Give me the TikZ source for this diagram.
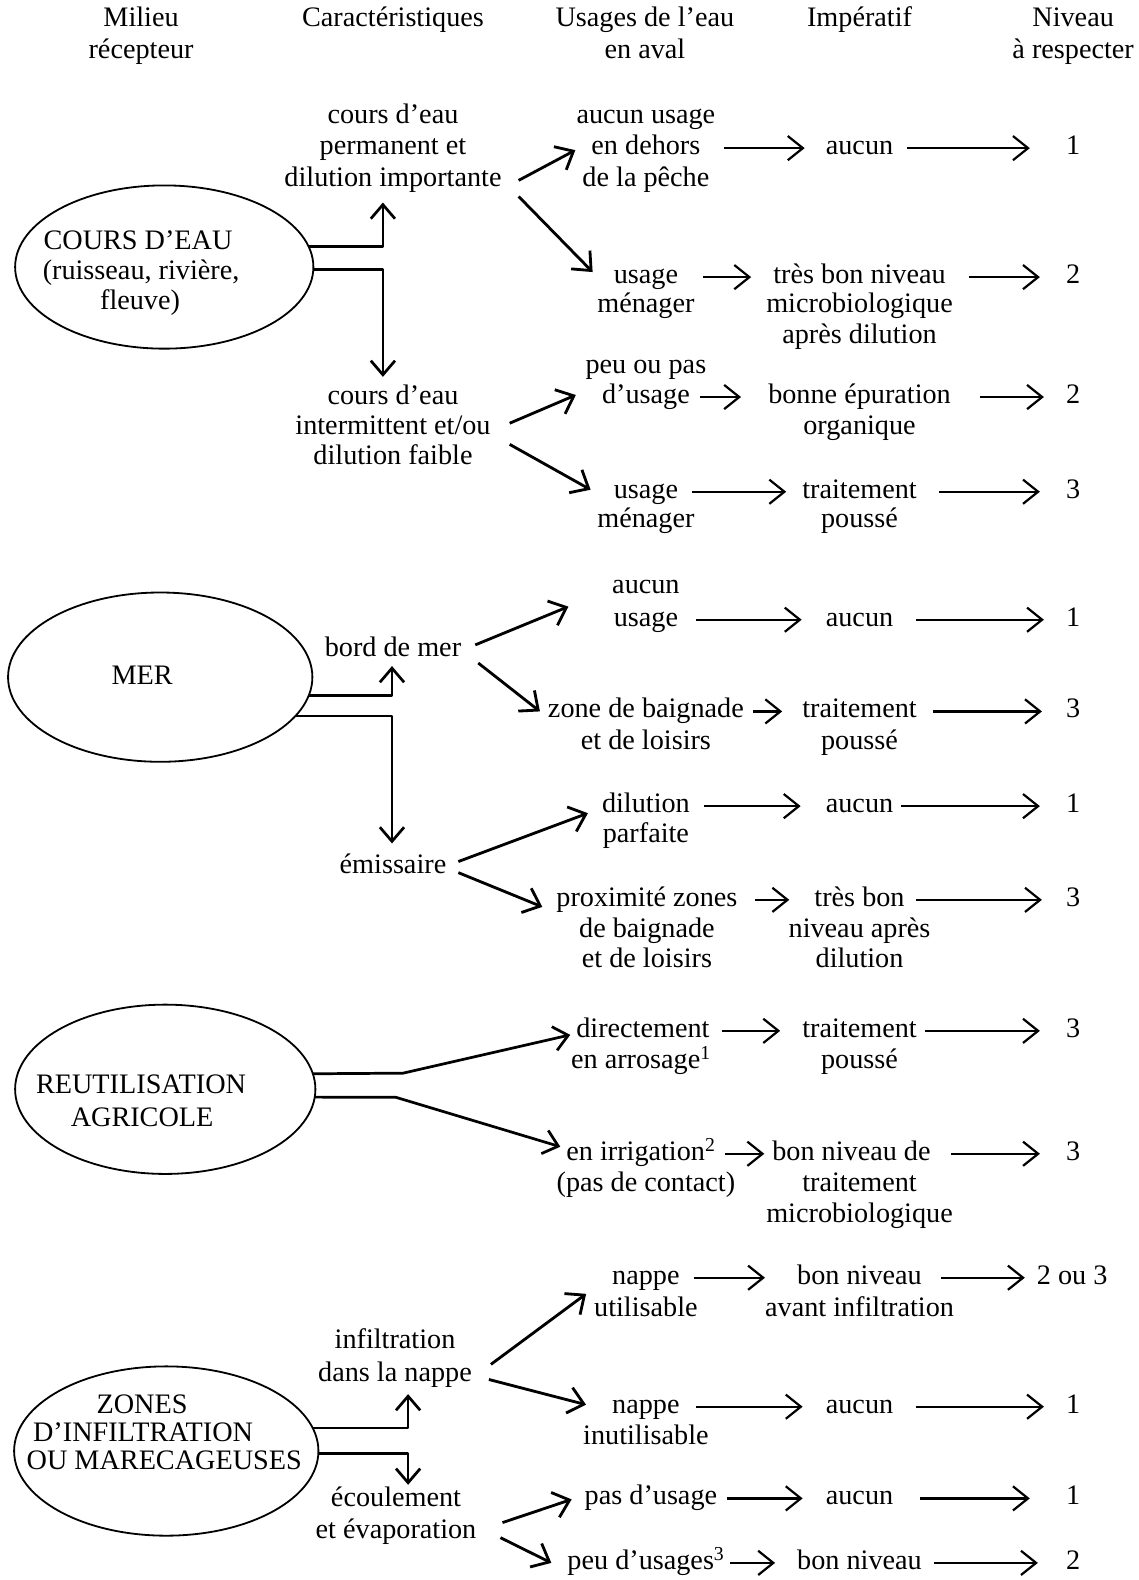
\documentclass[tikz,border=0pt]{standalone}
\usepackage{fontspec}
\setmainfont{Liberation Serif}
\usetikzlibrary{arrows.meta,shapes.geometric}
\newcommand\tline[4]{\node[txt] (#1) at (#2,#3) {#4};}
\begin{document}
\begin{tikzpicture}[x=1pt,y=-1pt,
  font=\fontsize{28}{31}\selectfont,
  txt/.style={inner sep=0pt, outer sep=0pt, text height=19pt, text depth=6pt},
  ell/.style={draw, ellipse, line width=1.8pt, inner sep=0pt, outer sep=0pt},
  harr/.style={-{Straight Barb[length=15pt,width=24pt]}, line width=2.2pt},
  darr/.style={-{Straight Barb[length=15pt,width=26pt]}, line width=2.8pt},
  carr/.style={-{Straight Barb[length=14pt,width=24pt]}, line width=2.7pt, line join=round}]
\useasboundingbox (0,0) rectangle (1130,1568);
\fill[white] (0,0) rectangle (1130,1568);

% headers
\tline{hMa}{140}{20}{Milieu}
\tline{hMb}{140}{52}{récepteur}
\tline{hC}{390}{20}{Caractéristiques}
\tline{hUa}{640}{20}{Usages de l’eau}
\tline{hUb}{640}{52}{en aval}
\tline{hI}{853}{20}{Impératif}
\tline{hNa}{1065}{20}{Niveau}
\tline{hNb}{1065}{52}{à respecter}

% ===== section 1
\node[ell, minimum width=296pt, minimum height=162pt] (E1) at (163,265) {};
\tline{e1a}{137}{241}{COURS D’EAU}
\tline{e1b}{140}{271}{(ruisseau, rivière,}
\tline{e1c}{139}{301}{fleuve)}

\tline{c1a}{390}{116}{cours d’eau}
\tline{c1b}{390}{147}{permanent et}
\tline{c1c}{390}{179}{dilution importante}
\tline{c2a}{390}{395}{cours d’eau}
\tline{c2b}{390}{425}{intermittent et/ou}
\tline{c2c}{390}{454}{dilution faible}

\tline{u1a}{641}{116}{aucun usage}
\tline{u1b}{641}{147}{en dehors}
\tline{u1c}{641}{179}{de la pêche}
\tline{i1}{853}{147}{aucun}
\tline{n1}{1065}{147}{1}

\tline{u2a}{641}{275}{usage}
\tline{u2b}{641}{304}{ménager}
\tline{i2a}{853}{275}{très bon niveau}
\tline{i2b}{853}{304}{microbiologique}
\tline{i2c}{853}{334}{après dilution}
\tline{n2}{1065}{275}{2}

\tline{u3a}{641}{364}{peu ou pas}
\tline{u3b}{641}{394}{d’usage}
\tline{i3a}{853}{394}{bonne épuration}
\tline{i3b}{853}{425}{organique}
\tline{n3}{1065}{394}{2}

\tline{u4a}{641}{488}{usage}
\tline{u4b}{641}{517}{ménager}
\tline{i4a}{853}{488}{traitement}
\tline{i4b}{853}{517}{poussé}
\tline{n4}{1065}{488}{3}

\draw[carr] (E1.8) -| ([shift={(-10,9.5)}]c1c.south);
\draw[carr] (E1.-1) -| ([shift={(-10,-8.5)}]c2a.north);
\draw[darr] ([shift={(17,0)}]c1c.east) -- ([shift={(-16,2)}]u1b.west);
\draw[darr] ([shift={(17,16)}]c1c.east) -- ([shift={(-21,-5)}]u2a.west);
\draw[darr] ([shift={(19,-5)}]c2b.east) -- ([shift={(-26,-2)}]u3b.west);
\draw[darr] ([shift={(19,16)}]c2b.east) -- ([shift={(-23,-2)}]u4a.west);

\draw[harr, shorten <=23pt, shorten >=21pt] (u1b.east) -- (i1.west);
\draw[harr, shorten <=14pt, shorten >=36pt] (i1.east) -- (n1.west);
\draw[harr, shorten <=25pt, shorten >=22pt] (u2a.east) -- (i2a.west);
\draw[harr, shorten <=23pt, shorten >=26pt] (i2a.east) -- (n2.west);
\draw[harr, shorten <=10pt, shorten >=27pt] (u3b.east) -- (i3a.west);
\draw[harr, shorten <=29pt, shorten >=22pt] (i3a.east) -- (n3.west);
\draw[harr, shorten <=14pt, shorten >=16pt] (u4a.east) -- (i4a.west);
\draw[harr, shorten <=22pt, shorten >=26pt] (i4a.east) -- (n4.west);

% ===== section 2
\node[ell, minimum width=302pt, minimum height=168pt] (E2) at (159,672) {};
\tline{e2}{141}{673}{MER}
\tline{b1}{390}{645}{bord de mer}
\tline{em}{390}{860}{émissaire}

\tline{u5a}{641}{582}{aucun}
\tline{u5b}{641}{615}{usage}
\tline{i5}{853}{615}{aucun}
\tline{n5}{1065}{615}{1}

\tline{u6a}{641}{706}{zone de baignade}
\tline{u6b}{641}{737}{et de loisirs}
\tline{i6a}{853}{706}{traitement}
\tline{i6b}{853}{737}{poussé}
\tline{n6}{1065}{706}{3}

\tline{u7a}{641}{800}{dilution}
\tline{u7b}{641}{830}{parfaite}
\tline{i7}{853}{800}{aucun}
\tline{n7}{1065}{800}{1}

\tline{u8a}{642}{893}{proximité zones}
\tline{u8b}{642}{924}{de baignade}
\tline{u8c}{642}{954}{et de loisirs}
\tline{i8a}{853}{893}{très bon}
\tline{i8b}{853}{924}{niveau après}
\tline{i8c}{853}{954}{dilution}
\tline{n8}{1065}{893}{3}

\draw[carr] (E2.-7) -| ([shift={(-1,3.5)}]b1.south);
\draw[carr] (E2.-16) -| ([shift={(-1,-10.5)}]em.north);
\draw[darr] ([shift={(14,-5)}]b1.east) -- ([shift={(-45,-13)}]u5b.west);
\draw[darr] ([shift={(17,13)}]b1.east) -- ([shift={(-8,0)}]u6a.west);
\draw[darr] ([shift={(12,-5)}]em.east) -- ([shift={(-14,7)}]u7a.west);
\draw[darr] ([shift={(12,6)}]em.east) -- ([shift={(-14,7)}]u8a.west);

\draw[harr, shorten <=18pt, shorten >=24pt] (u5b.east) -- (i5.west);
\draw[harr, shorten <=23pt, shorten >=22pt] (i5.east) -- (n5.west);
\draw[harr, shorten <=9pt, shorten >=20pt] (u6a.east) -- (i6a.west);
\draw[harr, shorten <=16pt, shorten >=24pt] (i6a.east) -- (n6.west);
\draw[harr, shorten <=14pt, shorten >=25pt] (u7a.east) -- (i7.west);
\draw[harr, shorten <=8pt, shorten >=26pt] (i7.east) -- (n7.west);
\draw[harr, shorten <=17pt, shorten >=25pt] (u8a.east) -- (i8a.west);
\draw[harr, shorten <=11pt, shorten >=24pt] (i8a.east) -- (n8.west);

% ===== section 3
\node[ell, minimum width=298pt, minimum height=168pt] (E3) at (164,1081) {};
\tline{e3a}{140}{1079}{REUTILISATION}
\tline{e3b}{141}{1111}{AGRICOLE}

\tline{u9a}{638}{1023}{directement}
\tline{u9b}{636}{1054}{en arrosage\textsuperscript{1}}
\tline{i9a}{853}{1023}{traitement}
\tline{i9b}{853}{1054}{poussé}
\tline{n9}{1065}{1023}{3}

\tline{u10a}{636}{1145}{en irrigation\textsuperscript{2}}
\tline{u10b}{641}{1176}{(pas de contact)}
\tline{i10a}{845}{1145}{bon niveau de}
\tline{i10b}{853}{1176}{traitement}
\tline{i10c}{853}{1207}{microbiologique}
\tline{n10}{1065}{1145}{3}

\coordinate (b3u) at (400,1065);
\coordinate (b3l) at (393,1089);
\draw[carr] (E3.6) -- (b3u) -- ([shift={(-6,4)}]u9a.west);
\draw[carr] (E3.-3) -- (b3l) -- ([shift={(-6,-7)}]u10a.west);

\draw[harr, shorten <=12pt, shorten >=22pt] (u9a.east) -- (i9a.west);
\draw[harr, shorten <=8pt, shorten >=26pt] (i9a.east) -- (n9.west);
\draw[harr, shorten <=10pt, shorten >=8pt] (u10a.east) -- (i10a.west);
\draw[harr, shorten <=20pt, shorten >=26pt] (i10a.east) -- (n10.west);

% ===== section 4
\node[ell, minimum width=302pt, minimum height=168pt] (E4) at (165,1440) {};
\tline{e4a}{141}{1396}{ZONES}
\tline{e4b}{142}{1424}{D’INFILTRATION}
\tline{e4c}{163}{1452}{OU MARECAGEUSES}

\tline{inf1}{392}{1332}{infiltration}
\tline{inf2}{392}{1364}{dans la nappe}
\tline{ec1}{393}{1489}{écoulement}
\tline{ec2}{393}{1520}{et évaporation}

\tline{u11a}{641}{1268}{nappe}
\tline{u11b}{641}{1300}{utilisable}
\tline{i11a}{853}{1268}{bon niveau}
\tline{i11b}{853}{1300}{avant infiltration}
\tline{n11}{1064}{1268}{2 ou 3}

\tline{u12a}{641}{1396}{nappe}
\tline{u12b}{641}{1427}{inutilisable}
\tline{i12}{853}{1396}{aucun}
\tline{n12}{1065}{1396}{1}

\tline{u13}{646}{1487}{pas d’usage}
\tline{i13}{853}{1487}{aucun}
\tline{n13}{1065}{1487}{1}

\tline{u14}{641}{1551}{peu d’usages\textsuperscript{3}}
\tline{i14}{853}{1551}{bon niveau}
\tline{n14}{1065}{1551}{2}

\draw[carr] (E4.9) -| ([shift={(13,7)}]inf2.south);
\draw[carr] (E4.-1) -| ([shift={(12,-3)}]ec1.north);
\draw[darr] ([shift={(19,-10)}]inf2.east) -- ([shift={(-8,-16)}]u11b.west);
\draw[darr] ([shift={(17,5)}]inf2.east) -- ([shift={(-26,-2)}]u12a.west);
\draw[darr] ([shift={(26,-9)}]ec2.east) -- ([shift={(-13,1)}]u13.west);
\draw[darr] ([shift={(24,6)}]ec2.east) -- ([shift={(-16,0)}]u14.west);

\draw[harr, shorten <=14pt, shorten >=32pt] (u11a.east) -- (i11a.west);
\draw[harr, shorten <=19pt, shorten >=12pt] (i11a.east) -- (n11.west);
\draw[harr, shorten <=16pt, shorten >=23pt] (u12a.east) -- (i12.west);
\draw[harr, shorten <=23pt, shorten >=22pt] (i12.east) -- (n12.west);
\draw[harr, shorten <=10pt, shorten >=23pt] (u13.east) -- (i13.west);
\draw[harr, shorten <=27pt, shorten >=36pt] (i13.east) -- (n13.west);
\draw[harr, shorten <=6pt, shorten >=22pt] (u14.east) -- (i14.west);
\draw[harr, shorten <=12pt, shorten >=28pt] (i14.east) -- (n14.west);
\end{tikzpicture}
\end{document}
